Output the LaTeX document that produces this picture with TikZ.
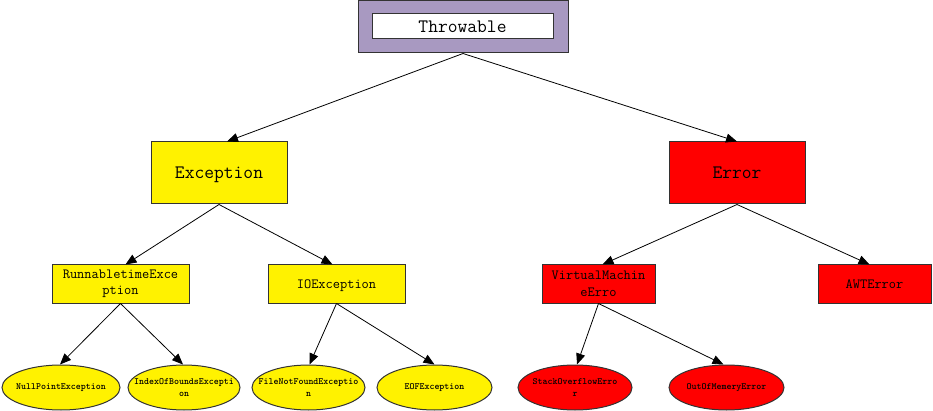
\documentclass[tikz,border=0pt]{standalone}
\usetikzlibrary{arrows.meta,shapes.geometric}
\definecolor{tpurple}{RGB}{168,153,193}
\begin{document}
\begin{tikzpicture}[x=1pt,y=-1pt,
  box/.style={draw=black!80,line width=1pt,inner sep=0pt,align=center,font=\ttfamily},
  big/.style={box,minimum width=136pt,minimum height=62pt,text depth=0pt,font=\fontsize{19}{22}\selectfont\ttfamily},
  mid/.style={box,minimum height=38pt,font=\fontsize{14}{17}\selectfont\ttfamily},
  one/.style={text depth=0pt},
  oval/.style={draw=black!80,line width=1pt,ellipse,inner sep=0pt,minimum height=45pt},
  lbl/.style={inner sep=0pt,align=center,font=\fontsize{9.5}{12}\selectfont\ttfamily\bfseries},
  edge/.style={draw=black,line width=0.8pt,-{Triangle[length=11pt,width=9pt]}}
]
\useasboundingbox (0,0) rectangle (933,411);
% Throwable
\node[box,fill=tpurple,minimum width=210pt,minimum height=52pt] (thr) at (463,27) {};
\node[box,one,fill=white,minimum width=181pt,minimum height=25pt,font=\fontsize{19}{22}\selectfont\ttfamily] (thrt) at (462.5,26.5) {Throwable};
% level 1
\node[big,fill=yellow] (exc) at (219,173) {Exception};
\node[big,fill=red] (err) at (737,173) {Error};
% level 2
\node[mid,fill=yellow,minimum width=137pt] (run) at (120.5,284) {RunnabletimeExce\\[-0.5pt]ption};
\node[mid,one,fill=yellow,minimum width=137pt] (io) at (336.5,284) {IOException};
\node[mid,fill=red,minimum width=113pt] (vm) at (598.5,284) {VirtualMachin\\[-0.5pt]eErro};
\node[mid,one,fill=red,minimum width=113pt] (awt) at (874.5,284) {AWTError};
% level 3
\node[oval,fill=yellow,minimum width=118pt,label={[lbl]center:NullPointException}] (np) at (61,387.5) {};
\node[oval,fill=yellow,minimum width=112pt,label={[lbl]center:{IndexOfBoundsExcepti\\on}}] (ib) at (184,387.5) {};
\node[oval,fill=yellow,minimum width=113pt,label={[lbl]center:{FileNotFoundExceptio\\n}}] (fnf) at (308.5,387.5) {};
\node[oval,fill=yellow,minimum width=115pt,label={[lbl]center:EOFException}] (eof) at (434.5,387.5) {};
\node[oval,fill=red,minimum width=114pt,label={[lbl]center:{StackOverflowErro\\r}}] (so) at (575,387.5) {};
\node[oval,fill=red,minimum width=115pt,label={[lbl]center:OutOfMemeryError}] (oom) at (726.5,387.5) {};
% edges
\draw[edge] (thr.south) -- ([xshift=8pt]exc.north);
\draw[edge] (thr.south) -- (err.north);
\draw[edge] (exc.south) -- ([xshift=5pt]run.north);
\draw[edge] (exc.south) -- ([xshift=-4pt]io.north);
\draw[edge] (err.south) -- ([xshift=4pt]vm.north);
\draw[edge] (err.south) -- ([xshift=-5pt]awt.north);
\draw[edge] (run.south) -- ([xshift=-1pt]np.north);
\draw[edge] (run.south) -- ([xshift=-1pt]ib.north);
\draw[edge] (io.south) -- ([xshift=1pt]fnf.north);
\draw[edge] (io.south) -- (eof.north);
\draw[edge] (vm.south) -- ([xshift=2pt]so.north);
\draw[edge] (vm.south) -- ([xshift=-3pt]oom.north);
\end{tikzpicture}
\end{document}
